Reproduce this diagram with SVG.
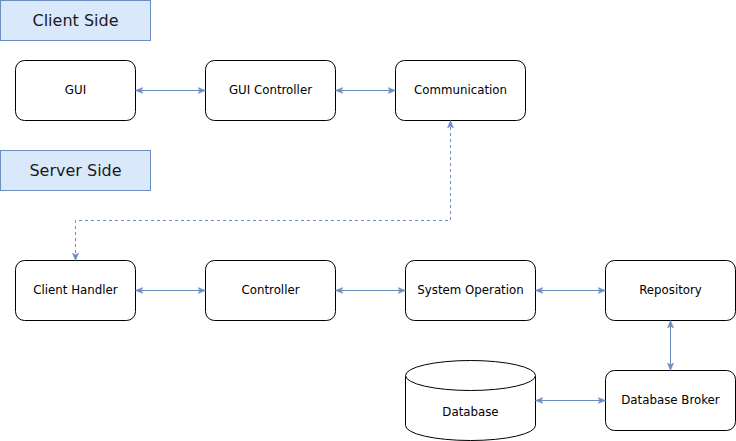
<svg xmlns="http://www.w3.org/2000/svg" width="736" height="441" viewBox="0 0 736 441">
<style>
.hdr{fill:#dae8fc;stroke:#6c8ebf;stroke-width:1}
.hdrt{font-family:"DejaVu Sans",Verdana,sans-serif;font-size:16px;fill:#1a1a1a;text-anchor:middle;dominant-baseline:central}
.node{fill:#fff;stroke:#000;stroke-width:1}
.t{font-family:"DejaVu Sans",Verdana,sans-serif;font-size:11.8px;fill:#000;text-anchor:middle;dominant-baseline:central}
.c{fill:none;stroke:#6c8ebf;stroke-width:1;marker-start:url(#a);marker-end:url(#a)}
.d{stroke-dasharray:3 3}
</style>
<defs>
<marker id="a" viewBox="0 0 10 10" refX="9" refY="5" markerWidth="8" markerHeight="8" markerUnits="userSpaceOnUse" orient="auto-start-reverse">
<path d="M0,1 L10,5 L0,9 L2.5,5 Z" fill="#6c8ebf" stroke="#6c8ebf" stroke-width="0.5"/>
</marker>
</defs>
<g id="client-side"><rect class="hdr" x="0.5" y="0.5" width="150" height="40"/><text class="hdrt" x="75.5" y="20.5">Client Side</text></g>
<g id="server-side"><rect class="hdr" x="0.5" y="150.5" width="150" height="40"/><text class="hdrt" x="75.5" y="170.5">Server Side</text></g>
<g id="gui"><rect class="node" x="15.5" y="60.5" width="120" height="60" rx="9"/><text class="t" x="75.5" y="90">GUI</text></g>
<g id="gui-controller"><rect class="node" x="205.5" y="60.5" width="130" height="60" rx="9"/><text class="t" x="270.5" y="90">GUI Controller</text></g>
<g id="communication"><rect class="node" x="395.5" y="60.5" width="130" height="60" rx="9"/><text class="t" x="460.5" y="90">Communication</text></g>
<g id="client-handler"><rect class="node" x="15.5" y="260.5" width="120" height="60" rx="9"/><text class="t" x="75.5" y="290">Client Handler</text></g>
<g id="controller"><rect class="node" x="205.5" y="260.5" width="130" height="60" rx="9"/><text class="t" x="270.5" y="290">Controller</text></g>
<g id="system-operation"><rect class="node" x="405.5" y="260.5" width="130" height="60" rx="9"/><text class="t" x="470.5" y="290">System Operation</text></g>
<g id="repository"><rect class="node" x="605.5" y="260.5" width="130" height="60" rx="9"/><text class="t" x="670.5" y="290">Repository</text></g>
<g id="database-broker"><rect class="node" x="605.5" y="370.5" width="130" height="60" rx="9"/><text class="t" x="670.5" y="400">Database Broker</text></g>
<g id="database">
<path class="node" d="M405.5,375.5 A65,15 0 0 1 535.5,375.5 L535.5,425.5 A65,15 0 0 1 405.5,425.5 Z"/>
<path class="node" d="M405.5,375.5 A65,15 0 0 0 535.5,375.5" fill="none"/>
<text class="t" x="470.5" y="412">Database</text>
</g>
<g id="connectors">
<path class="c" d="M136,90.5 L205,90.5"/>
<path class="c" d="M336,90.5 L395,90.5"/>
<path class="c" d="M136,290.5 L205,290.5"/>
<path class="c" d="M336,290.5 L405,290.5"/>
<path class="c" d="M536,290.5 L605,290.5"/>
<path class="c" d="M670.5,321 L670.5,370"/>
<path class="c" d="M536,400.5 L605,400.5"/>
<path class="c d" d="M450.5,121 L450.5,220.5 L75.5,220.5 L75.5,260"/>
</g>
</svg>
